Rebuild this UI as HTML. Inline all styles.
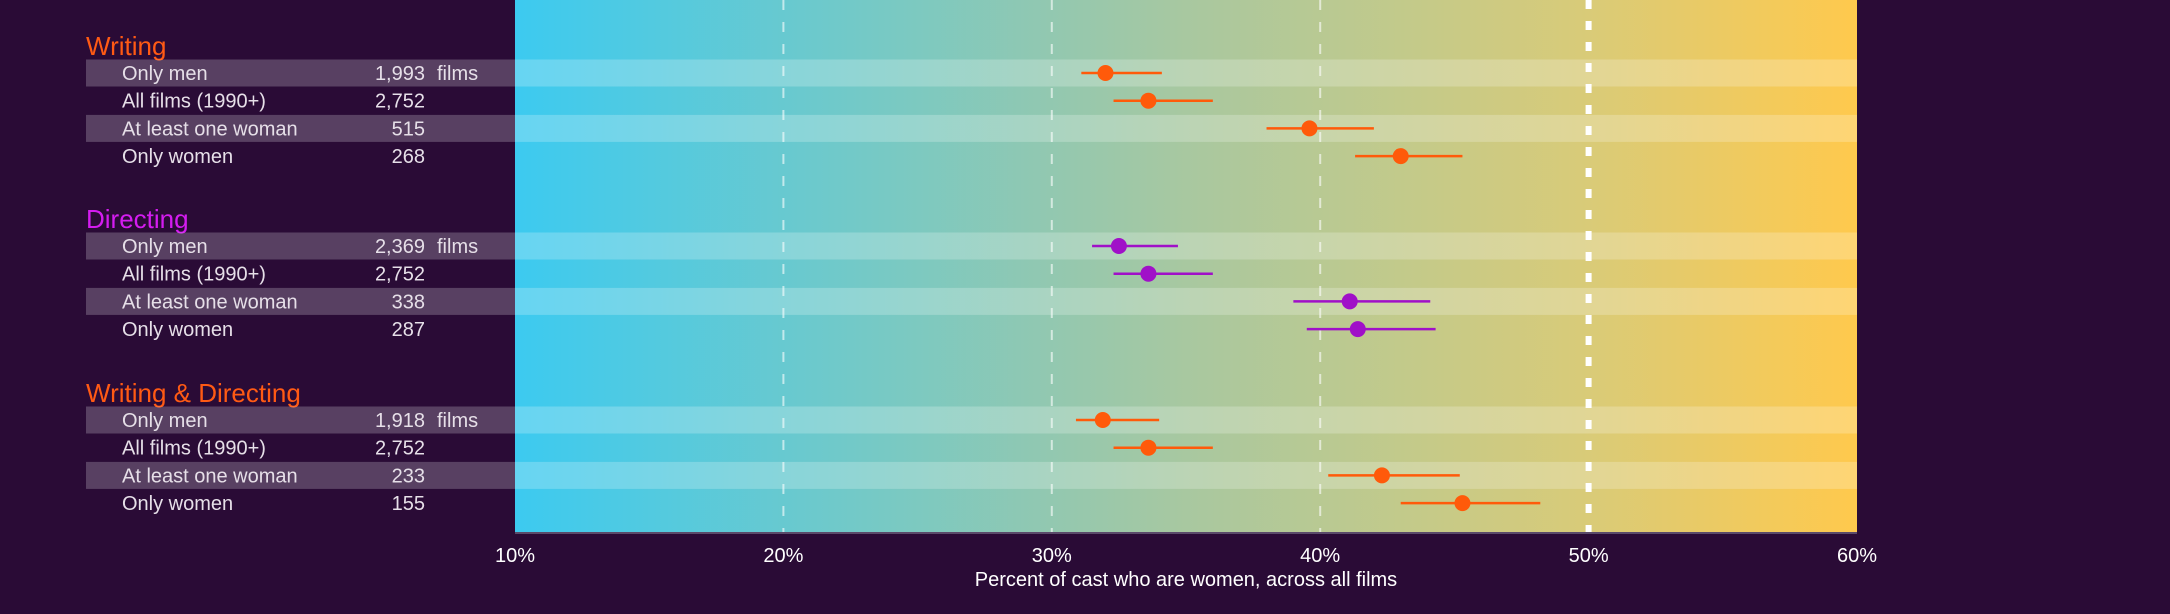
<!DOCTYPE html>
<html><head><meta charset="utf-8"><style>
html,body{margin:0;padding:0;background:#2a0b36;}
svg{display:block;font-family:"Liberation Sans",sans-serif;}
</style></head><body>
<svg id="chart" width="2170" height="614" viewBox="0 0 2170 614">
<defs>
<linearGradient id="bg" x1="0" x2="1" y1="0" y2="0">
<stop offset="0" stop-color="#3ccaf0"/>
<stop offset="0.5" stop-color="#a8c8a0"/>
<stop offset="0.8" stop-color="#d9cb78"/>
<stop offset="1" stop-color="#ffc94d"/>
</linearGradient>
</defs>
<rect x="0" y="0" width="2170" height="614" fill="#2a0b36"/>
<g id="plot"></g>
</svg>
<script>
const groups = ["Writing", "Directing", "Writing & Directing"];
const groupColors = ["#ff5a14", "#d41cf0", "#ff5a14"];
const dotColors = ["#ff5a0a", "#a010c8", "#ff5a0a"];
const rowLabels = ["Only men", "All films (1990+)", "At least one woman", "Only women"];
const filmCounts = [["1,993","2,752","515","268"],["2,369","2,752","338","287"],["1,918","2,752","233","155"]];
const means = [[32.0,33.6,39.6,43.0],[32.5,33.6,41.1,41.4],[31.9,33.6,42.3,45.3]];
const lows = [[31.1,32.3,38.0,41.3],[31.5,32.3,39.0,39.5],[30.9,32.3,40.3,43.0]];
const highs = [[34.1,36.0,42.0,45.3],[34.7,36.0,44.1,44.3],[34.0,36.0,45.2,48.2]];
const ticks = [10,20,30,40,50,60];
const tickLabels = ["10%","20%","30%","40%","50%","60%"];

const NS="http://www.w3.org/2000/svg";
const g=document.getElementById('plot');
const X0=515,X1=1857,PT=0,PB=533;
const xs=v=>X0+(v-10)/(60-10)*(X1-X0);
const groupTop=[46,219,393];
const rowY=(gi,ri)=>groupTop[gi]+27+ri*27.7;
function mk(tag,attrs,parent){const e=document.createElementNS(NS,tag);for(const k in attrs)e.setAttribute(k,attrs[k]);(parent||g).appendChild(e);return e;}

let e=mk('rect',{x:X0,y:PT,width:X1-X0,height:PB-PT,fill:'url(#bg)'});



groups.forEach((gn,gi)=>{
  let t=mk('text',{x:86,y:groupTop[gi]+9,fill:groupColors[gi],'font-size':26});
  t.textContent=gn;
  
  
  rowLabels.forEach((rl,ri)=>{
    const y=rowY(gi,ri);
    if(ri%2===0){
      let b=mk('rect',{x:86,y:y-13.5,width:X1-86,height:27,fill:'#ffffff','fill-opacity':0.22});
      
      
    }
    let l=mk('text',{x:122,y:y+7,fill:'#e6dfe8','font-size':20});
    l.textContent=rl;
    
    
    let n=mk('text',{x:425,y:y+7,fill:'#e6dfe8','font-size':20,'text-anchor':'end'});
    n.textContent=filmCounts[gi][ri];
    
    
    if(ri===0){
      let f=mk('text',{x:437,y:y+7,fill:'#e6dfe8','font-size':20});
      f.textContent='films';
      
      
    }
  });
});

ticks.forEach((tv,i)=>{
  const x=xs(tv);
  if(tv>10&&tv<60){
    let ln=mk('line',{x1:x,x2:x,y1:PT,y2:PB,stroke:'#ffffff','stroke-opacity':tv===50?1:0.6,'stroke-width':tv===50?6:2,'stroke-dasharray':tv===50?'9 12':'10 12'});
    
    
  }
  let t=mk('text',{x:x,y:562,fill:'#ffffff','font-size':20,'text-anchor':'middle'});
  t.textContent=tickLabels[i];
  
  
});
let ax=mk('line',{x1:X0,x2:X1,y1:PB,y2:PB,stroke:'#5a4a6a','stroke-width':2});


let at=mk('text',{x:(X0+X1)/2,y:586,fill:'#ffffff','font-size':20,'text-anchor':'middle'});
at.textContent='Percent of cast who are women, across all films';



groups.forEach((gn,gi)=>{
  rowLabels.forEach((rl,ri)=>{
    const y=rowY(gi,ri);
    let r=mk('line',{x1:xs(lows[gi][ri]),x2:xs(highs[gi][ri]),y1:y,y2:y,stroke:dotColors[gi],'stroke-width':2.5});
    
    
    let c=mk('circle',{cx:xs(means[gi][ri]),cy:y,r:8,fill:dotColors[gi]});
    
    
  });
});
</script>
</body></html>
